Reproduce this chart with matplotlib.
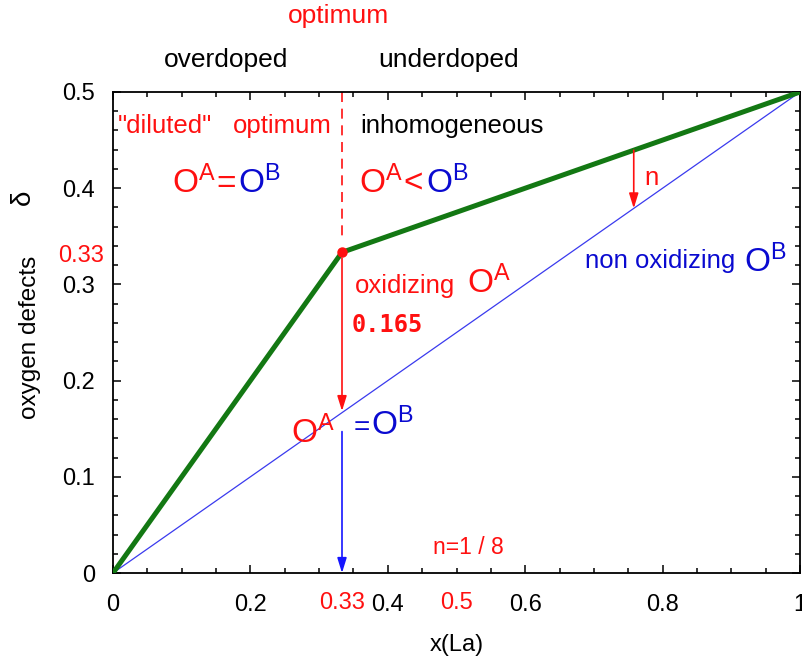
import numpy as np
import matplotlib
matplotlib.use('Agg')
import matplotlib.pyplot as plt
from matplotlib.ticker import MultipleLocator, FuncFormatter

plt.rcParams['font.family'] = ['Liberation Sans', 'DejaVu Sans']
plt.rcParams['mathtext.fontset'] = 'custom'
plt.rcParams['mathtext.rm'] = 'Liberation Sans'
plt.rcParams['mathtext.it'] = 'Liberation Sans:italic'
plt.rcParams['mathtext.bf'] = 'Liberation Sans:bold'

# oxygen defect line vs La content
green_x = [0, 1/3, 1]
green_y = [0, 1/3, 0.5]
# non oxidizing O(B) line
blue_x = [0, 1]
blue_y = [0, 0.5]
x_opt, y_opt = 1/3, 1/3
drop = 0.165           # oxidizing O(A) part at the optimum
x_n = 0.758            # where the "n" arrow is drawn
blue_arrow_top = 0.147

RED = '#ff1010'
BLUE = '#0a0ad0'
GREEN = '#137813'

fig = plt.figure(figsize=(8.02, 6.63), dpi=100)
ax = fig.add_axes([113/802, 1-573/663, 687/802, 481/663])

ax.plot(blue_x, blue_y, color='#3a3aee', lw=0.9)
ax.plot(green_x, green_y, color=GREEN, lw=3.6, solid_capstyle='round', zorder=3)
ax.plot([x_opt], [y_opt], 'o', color=RED, ms=6.5, zorder=4)

# dashed optimum marker
ax.plot([x_opt, x_opt], [0.5, 0.345], color=RED, lw=1.2, ls=(0, (6, 4)))

arr = dict(arrowstyle='-|>,head_length=0.9,head_width=0.28', lw=1.2,
           shrinkA=0, shrinkB=0)
ax.annotate('', xy=(x_opt, y_opt - drop), xytext=(x_opt, y_opt - 0.006),
            arrowprops=dict(color=RED, **arr))
ax.annotate('', xy=(x_opt, 0), xytext=(x_opt, blue_arrow_top),
            arrowprops=dict(color='#1515ff', **arr))
g_n = np.interp(x_n, green_x, green_y)
b_n = np.interp(x_n, blue_x, blue_y)
ax.annotate('', xy=(x_n, b_n), xytext=(x_n, g_n),
            arrowprops=dict(color=RED, **arr))

ax.set_xlim(0, 1)
ax.set_ylim(0, 0.5)
ax.xaxis.set_major_locator(MultipleLocator(0.2))
ax.xaxis.set_minor_locator(MultipleLocator(0.05))
ax.yaxis.set_major_locator(MultipleLocator(0.1))
ax.yaxis.set_minor_locator(MultipleLocator(0.02))
fmt = FuncFormatter(lambda v, p: '%g' % round(v, 3))
ax.xaxis.set_major_formatter(fmt)
ax.yaxis.set_major_formatter(fmt)
ax.tick_params(which='both', direction='in', top=True, right=True, width=1.1)
ax.tick_params(which='major', length=6, labelsize=17)
ax.tick_params(which='minor', length=3.5)
ax.tick_params(axis='x', pad=15)
ax.tick_params(axis='y', pad=13)
for s in ax.spines.values():
    s.set_linewidth(1.3)

# extra red tick labels
ax.text(x_opt, -0.04, '0.33', color=RED, fontsize=17, ha='center', va='top',
        transform=ax.get_xaxis_transform(), clip_on=False)
ax.text(0.5, -0.04, '0.5', color=RED, fontsize=17, ha='center', va='top',
        transform=ax.get_xaxis_transform(), clip_on=False)
ax.text(-0.013, 0.33, '0.33', color=RED, fontsize=17, ha='right', va='center',
        transform=ax.get_yaxis_transform(), clip_on=False)

ax.text(0.5, -0.15, 'x(La)', fontsize=17, ha='center', va='center',
        transform=ax.transAxes)
ax.text(-0.121, 0.245, 'oxygen defects', fontsize=17.5, rotation=90,
        ha='center', va='center', transform=ax.get_yaxis_transform())
ax.text(-0.131, 0.391, 'δ', fontsize=20, rotation=90,
        ha='center', va='center', transform=ax.get_yaxis_transform())

# regions above the plot
ax.text(0.328, 0.572, 'optimum', color=RED, fontsize=19, ha='center', va='baseline')
ax.text(0.165, 0.526, 'overdoped', fontsize=19, ha='center', va='baseline')
ax.text(0.488, 0.526, 'underdoped', fontsize=19, ha='center', va='baseline')

ax.text(0.007, 0.457, '"diluted"', color=RED, fontsize=18.5, va='baseline')
ax.text(0.175, 0.457, 'optimum', color=RED, fontsize=18.5, va='baseline')
ax.text(0.36, 0.457, 'inhomogeneous', fontsize=18.5, va='baseline')

OA = r'$\mathrm{O}^{\mathrm{A}}$'
OB = r'$\mathrm{O}^{\mathrm{B}}$'
big = 24

ax.text(0.086, 0.395, OA, color=RED, fontsize=big, va='baseline')
ax.text(0.150, 0.395, '=', color=RED, fontsize=big, va='baseline')
ax.text(0.182, 0.395, OB, color=BLUE, fontsize=big, va='baseline')

ax.text(0.358, 0.395, OA, color=RED, fontsize=big, va='baseline')
ax.text(0.423, 0.395, '<', color=RED, fontsize=big, va='baseline')
ax.text(0.456, 0.395, OB, color=BLUE, fontsize=big, va='baseline')

ax.text(0.352, 0.291, 'oxidizing', color=RED, fontsize=18.5, va='baseline')
ax.text(0.515, 0.291, OA, color=RED, fontsize=big, va='baseline')
ax.text(0.348, 0.25, '%.3f' % drop, color=RED, fontsize=17, fontweight='bold',
        family='DejaVu Sans Mono', va='baseline')

ax.text(0.259, 0.135, OA, color=RED, fontsize=big, va='baseline')
ax.text(0.35, 0.143, '=', color=BLUE, fontsize=20, va='baseline')
ax.text(0.375, 0.143, OB, color=BLUE, fontsize=big, va='baseline')

ax.text(0.774, 0.403, 'n', color=RED, fontsize=18.5, va='baseline')
ax.text(0.687, 0.317, 'non oxidizing', color=BLUE, fontsize=18.5, va='baseline')
ax.text(0.919, 0.313, OB, color=BLUE, fontsize=big, va='baseline')

ax.text(0.466, 0.02, 'n=1 / 8', color=RED, fontsize=16.5, va='baseline')

fig.savefig('out.png', dpi=100)
